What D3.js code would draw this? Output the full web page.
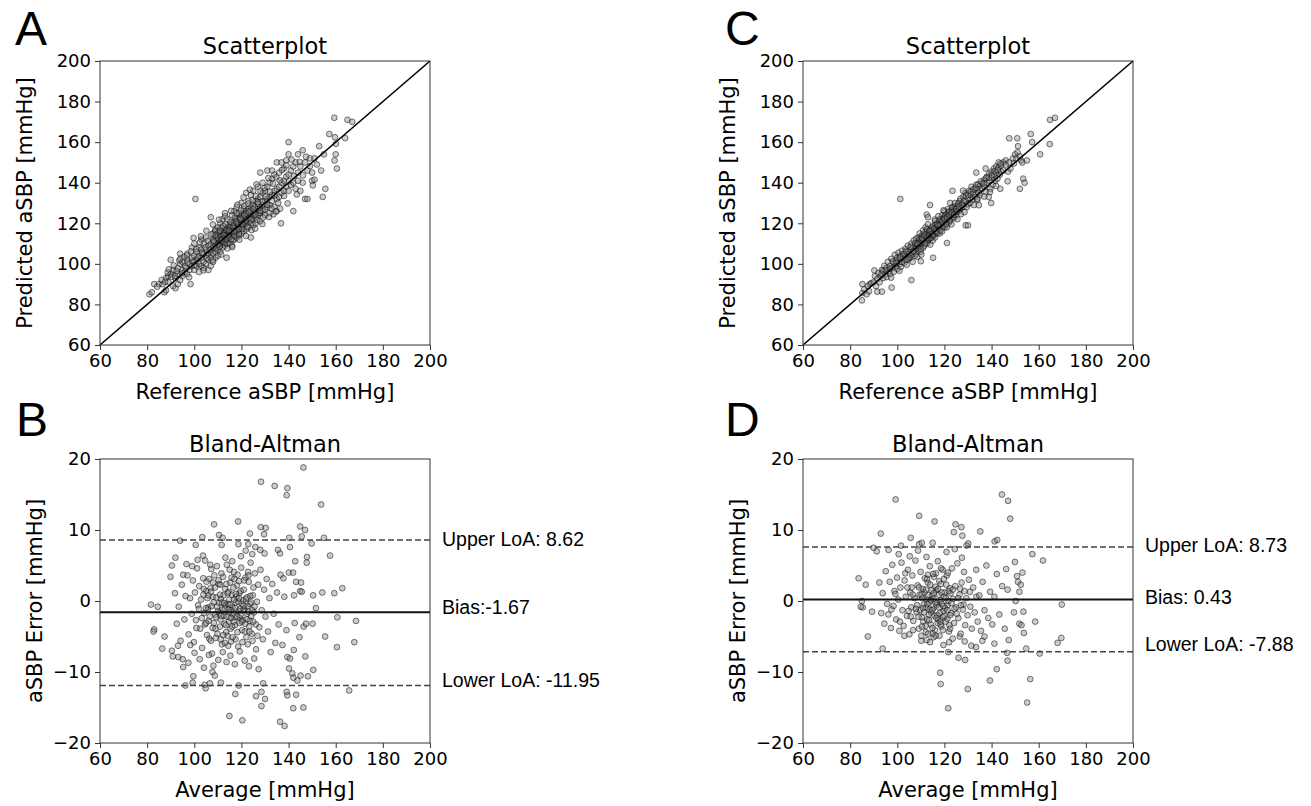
<!DOCTYPE html>
<html>
<head>
<meta charset="utf-8">
<script src="https://cdn.jsdelivr.net/npm/d3@7"></script>
<style>
  body { margin: 0; background: #fff; }
  .tick text { font-family: "DejaVu Sans", sans-serif; font-size: 18px; fill: #000; }
  .tick line { stroke: #333; }
  .axis-label { font-family: "DejaVu Sans", sans-serif; font-size: 21px; fill: #000; }
  .panel-title { font-family: "DejaVu Sans", sans-serif; font-size: 22.5px; fill: #000; }
  .panel-letter { font-family: "Liberation Sans", Arial, sans-serif; font-size: 48px; fill: #000; }
  .loa-label { font-family: "Liberation Sans", Arial, sans-serif; font-size: 19.5px; fill: #000; }
</style>
</head>
<body>
<svg id="fig" width="1311" height="806"></svg>
<script>
// ---- data ----
const xTicks = [60, 80, 100, 120, 140, 160, 180, 200];
const scatterTicks = [60, 80, 100, 120, 140, 160, 180, 200];
const errorTicks = [-20, -10, 0, 10, 20];

// panel A: [reference, predicted]
const scatterA = [
  [81,85],[82,86],[83,90],[85,90],[86.6,90],[87.3,86],[88,87],[88,93],[89,94],[89,91],[90,95],[90,102],[91,97],[91,89],
  [92,88],[92,93],[93,95],[93,90],[93,98],[94,100],[94,105],[94,92],[95,97],[95,94],[95,101],[96,99],[96,96],[97,102],
  [97,95],[97,105],[98.4,90],[98,100],[98,97],[99,103],[99,99],[99,108],[100,101],[100,97],[100,104],[100,110],[100.5,132],
  [101,99],[101,102],[101,106],[102,100],[102,104],[102,108],[102,96],[103,103],[103,99],[103,107],[103,112],[104,101],
  [104,105],[104,98],[104,110],[105,104],[105,107],[105,100],[105,113],[106,105],[106,102],[106,109],[106,97],[107,106],
  [107,110],[107,103],[107,123],[107,99],[108,108],[108,112],[108,105],[108,115],[108,101],[109,109],[109,113],[109,106],
  [109,117],[109,103],[110,110],[110,114],[110,107],[110,112],[110,118],[110,104],[111,111],[111,115],[111,109],[111,113],
  [111,120],[111,106],[112,112],[112,116],[112,110],[112,114],[112,108],[112,122],[113,113],[113,117],[113,111],[113,115],
  [113,109],[113,125],[113.7,103],[114,114],[114,118],[114,112],[114,116],[114,110],[114,122],[115,115],[115,119],[115,113],
  [115,117],[115,110],[116,116],[116,120],[116,114],[116,124],[116,109],[117,117],[117,121],[117,115],[117,126],[117,112],
  [118,118],[118,122],[118,116],[118,120],[118,113],[118,128],[119,119],[119,123],[119,117],[119,125],[119,114],[120,120],
  [120,124],[120,118],[120,122],[120,115],[120,130],[121,121],[121,125],[121,119],[121,127],[121,116],[122,122],[122,126],
  [122,120],[122,135],[122,117],[123,123],[123,127],[123,121],[123,131],[123,118],[124,113],[124,124],[124,128],[124,120],
  [124,134],[125,125],[125,129],[125,122],[125,119],[125,136],[126,126],[126,131],[126,123],[126,120],[127,127],[127,132],
  [127,124],[127,138],[128,128],[128,133],[128,125],[128,145],[128,121],[129,129],[129,135],[129,126],[129,140],[130,131],
  [130,136],[130,127],[130,124],[131,132],[131,138],[131,128],[131,146],[132,133],[132,140],[132,129],[132,125],[133,134],
  [133,142],[133,131],[133,146],[134,136],[134,128],[134,144],[135,137],[135,150],[135,132],[135,126],[136,138],[136,145],
  [136,133],[136.8,120],[137,140],[137,150],[137,135],[138,141],[138,147],[138,136],[139,143],[139,151],[139,138],[140,160],
  [140,144],[140,136],[140,154],[141,146],[141,139],[142,126],[142,148],[142,140],[143,150],[143,137],[144,154],[144,145],
  [144,141],[145,148],[145,136],[146,156],[146,140],[147,132],[147,150],[148,132],[148,146],[149,152],[150,145],[150,141],
  [151,141.5],[151,152],[152,149],[153,158],[153.8,146],[154.5,133],[155.6,137],[155,154],[157.3,164],[159.4,172],[159.7,162.4],
  [160.1,159.2],[160,154],[159.5,151],[160.5,147],[164,162],[165,171],[167,170],
  [84.3,88.7],[86.2,92.1],[87.6,91.2],[88.7,95.8],[90.4,93.6],[91.3,99.2],[92.5,96.4],[93.6,101.7],[94.8,95.3],[95.6,103.4],
  [96.4,98.1],[97.2,100.6],[97.8,93.4],[98.6,106.2],[99.3,101.2],[100.2,99.4],[100.8,107.3],[101.7,103.1],[102.4,110.6],[103.3,105.4],
  [103.9,96.8],[104.7,108.2],[105.3,102.7],[105.8,111.4],[106.6,106.9],[107.3,114.6],[107.8,101.8],[108.4,110.7],[108.9,116.2],[109.4,107.8],
  [109.8,112.9],[110.3,115.6],[110.7,108.4],[111.2,113.7],[111.6,117.9],[112.1,110.9],[112.5,115.2],[112.9,112.4],[113.3,119.4],[113.7,114.3],
  [114.1,107.6],[114.5,116.8],[114.9,113.1],[115.4,120.7],[115.8,115.9],[116.3,111.6],[116.7,119.2],[117.2,122.8],[117.6,116.4],[118.1,124.9],
  [118.5,119.6],[118.9,114.8],[119.4,121.8],[119.8,126.3],[120.3,117.2],[120.7,123.1],[121.2,128.6],[121.6,120.4],[122.1,124.8],[122.5,118.3],
  [122.9,129.7],[123.4,122.6],[123.8,126.2],[124.3,116.7],[124.7,131.3],[125.2,123.8],[125.6,127.9],[126.1,133.4],[126.6,121.7],[127.1,129.6],
  [127.6,125.1],[128.1,135.8],[128.7,130.7],[129.2,122.8],[129.8,137.4],[130.3,133.2],[130.9,129.1],[131.4,142.3],[132.1,135.6],[132.7,127.3],
  [133.4,139.6],[134.1,133.8],[134.8,142.7],[135.6,130.1],[136.3,141.2],[137.2,146.3],[138.1,133.5],[139.1,148.6],[140.2,140.8],[141.3,151.4],
  [142.4,143.3],[143.5,134.2],[144.7,150.3],[146.1,143.6],[147.4,152.8],[149.1,148.2],[150.3,138.7],[139.6,129.8],[136.4,127.2],[133.6,124.4],
  [89.2,97.3],[91.8,94.1],[94.1,102.6],[96.9,104.1],[99.7,112.8],[102.8,113.6],[105.1,116.3],[107.9,119.4],[110.5,121.8],[113.1,123.4],
  [115.6,126.1],[118.3,129.2],[120.9,132.7],[123.6,136.6],[126.4,139.2],[111.4,104.6],[116.1,108.3],[119.1,111.9],[121.9,113.8],[125.8,117.4],
  [128.9,119.6],[131.7,123.1],[134.6,125.8],
  [108.2,111.3],[109.1,114.2],[110.1,109.6],[110.9,116.4],[111.8,112.2],[112.3,118.6],[113.0,110.4],[113.6,116.7],[114.4,113.6],[115.1,118.1],
  [115.7,112.2],[116.5,117.8],[117.0,113.9],[117.9,120.8],[118.7,117.1],[119.6,122.3],[120.4,119.6],[121.3,124.0],[122.2,121.7],[123.1,125.6],
  [124.0,122.0],[125.0,127.1],[126.0,124.3],[127.0,130.4],[128.0,126.2],[112.6,114.0],[113.5,112.0],[111.5,111.6],[114.8,116.3],[116.9,115.9]
];

// panel B: [average, error]
const blandB = [
  [146.3,18.8],[128.3,16.8],[134.1,16.2],[139.5,15.9],[139.2,14.9],[153.8,13.6],[108.4,10.8],[118.6,11.2],[128.2,10.4],
  [130.3,10.3],[129.6,9.4],[144.9,10.5],[147,10],[145.6,9.1],[103.4,9],[110.5,9.3],[112,8.9],[94,8.5],[140.3,8.9],[155,8.9],
  [149.8,8.1],[100.6,7.9],[111.6,7.9],[118.7,8],[123.6,9.5],[122.9,8],[125.9,7.6],[128,7.2],[129.8,6.7],[135.5,7.2],
  [136.4,6.7],[140.6,7.6],[157.6,6.4],[147.8,6.2],[147.7,5.4],[92,6.1],[90.5,5],[89.9,3.4],[162.8,1.8],[159.4,1.1],
  [154.3,1.2],[150.4,0.8],[151.6,-1],[160.7,-2.3],[168.6,-2.8],[167.9,-5.8],[160.5,-6.5],[155.5,-5],[81.6,-0.5],[84.5,-0.8],
  [83,-4],[82.7,-4.3],[86.4,-6.7],[87.4,-5],[90.5,-7],[90.9,-7.8],[93.2,-7.9],[95.1,-8.2],[95.3,-9.3],[97.5,-8.7],
  [96.2,-11.9],[99.3,-11.5],[99.6,-10.6],[104.4,-11.8],[104.8,-12.3],[106.6,-11.6],[107.7,-10],[108.7,-10.5],[111.3,-11.5],
  [117.4,-13.1],[114.9,-16.2],[120.4,-16.8],[118.9,-11.9],[126.2,-13.4],[128.5,-12.8],[128.5,-14.8],[130,-13.8],[129.2,-11.6],
  [136.4,-17],[138.3,-17.6],[139.2,-12.8],[139.5,-13.3],[143.2,-13.2],[142,-15.1],[146.3,-15],[165.7,-12.6],[143.7,-11.2],
  [145.1,-10.5],[148.2,-10.6],[150.5,-9.7],[141.6,-10.2],[142,-10.8],[140.2,-9.5],[139.5,-7.9],[140.6,-8.1],[142.2,-6.9],
  [147.1,-7.8],[142.6,-3.1],[144.6,-5.1],[146.4,-3.6],[147.4,-3.2],[150.2,-3.2],[142.3,0.8],[144.9,1.4],[145.6,1.3],
  [143.2,2.7],[145.3,2.6],[142.8,5.6],[140.1,4],[141.9,4],[137.8,3.2],
  [93.4,-0.8],[94.7,2.3],[95.8,-2.6],[96.3,0.7],[97.1,3.6],[97.6,-4.7],[98.2,0.4],[98.9,-1.8],[99.4,2.9],[99.8,-5.8],
  [100.3,1.2],[100.7,-2.7],[101.2,4.6],[101.6,-0.6],[102.1,2.1],[102.5,-3.9],[102.9,0.2],[103.3,-6.6],[103.8,3.2],[104.2,-1.7],
  [104.6,5.7],[105.1,1.4],[105.4,-4.8],[105.9,-0.9],[106.3,3.1],[106.6,-2.2],[107.2,4.5],[107.5,-7.4],[107.9,0.6],[108.3,-3.1],
  [108.8,1.9],[109.1,-5.2],[109.6,4.9],[110.1,-1.4],[110.4,2.4],[110.9,-3.6],[111.3,0.3],[111.7,-6.1],[112.2,3.4],[112.6,-2.1],
  [113.1,1.7],[113.5,-4.4],[113.8,5.1],[114.3,-0.4],[114.7,-2.9],[115.2,2.6],[115.6,-5.7],[115.9,0.9],[116.4,-1.9],[116.8,4.1],
  [117.3,-3.4],[117.7,-0.2],[118.1,2.2],[118.6,-6.4],[119.1,1.1],[119.4,-2.4],[119.9,4.7],[120.3,-4.1],[120.8,0.1],[121.2,-1.1],
  [121.7,3.3],[122.1,-5.1],[122.6,-0.7],[123.1,2.7],[123.5,-2.8],[123.9,5.4],[124.4,-4.6],[124.8,0.8],[125.3,-1.6],[125.7,3.9],
  [126.2,-6.8],[126.6,-0.1],[127.1,2.3],[127.6,-3.7],[128.1,4.4],[128.6,-1.3],[129.1,-5.4],[129.6,1.6],[130.2,-2.2],[130.7,3.1],
  [131.3,-4.3],[131.9,0.4],[132.4,-7.2],[133.1,2.4],[133.7,-1.8],[134.4,-5.9],[135.1,1.2],[135.8,-3.3],[136.6,3.7],[137.4,-6.2],
  [138.2,0.6],[139.1,-4.1],
  [103.2,-2.4],[103.9,0.9],[104.5,-3.3],[105.2,2.7],[105.8,-1.2],[106.4,-5.3],[106.9,1.8],[107.4,-0.7],[107.8,-3.8],[108.5,3.6],
  [108.9,-1.9],[109.4,0.5],[109.8,-4.6],[110.3,2.9],[110.6,-0.3],[111.1,-2.6],[111.5,3.9],[111.9,-1.2],[112.4,0.8],[112.8,-3.2],
  [113.3,-0.6],[113.6,2.4],[114.1,-4.9],[114.5,1.3],[114.9,-1.6],[115.4,-3.9],[115.8,3.3],[116.2,-0.9],[116.6,1.9],[117.1,-2.3],
  [117.5,-5.4],[117.9,0.6],[118.4,3.7],[118.8,-1.4],[119.2,-3.1],[119.7,1.4],[120.1,-0.4],[120.6,-2.7],[121.1,2.9],[121.5,-4.3],
  [121.9,0.3],[122.4,-1.8],[122.8,4.1],[123.3,-3.6],[123.7,0.7],[124.2,-2.1],[124.7,-5.6],[125.1,1.9],[125.6,-0.8],[126.1,-3.3],
  [110.7,-1.7],[111.8,-0.2],[112.9,-1.1],[113.9,-2.2],[114.8,0.2],[115.7,-1.3],[116.7,-2.9],[117.6,1.0],[118.7,-0.1],[119.6,-2.0],
  [120.7,-1.3],[109.3,-2.3],[108.2,-0.2],[107.1,1.3],[106.1,-2.8],[105.6,0.4],[104.9,-1.0],[122.2,-2.6],[123.6,-0.4],[124.6,-1.3],
  [112.1,-7.2],[113.7,-8.6],[115.3,-7.7],[117.2,-8.9],[119.3,-7.1],[121.4,-8.4],[123.2,-9.2],[125.4,-8.1],[127.3,-9.6],[110.2,-8.3],
  [108.1,-9.1],[106.2,-7.6],[104.1,-9.4],[102.3,-8.2],[100.1,-7.3],[98.3,-6.2],[113.2,6.1],[116.1,5.6],[119.8,6.3],[121.8,7.1],
  [124.6,6.6],[106.8,5.1],[103.7,6.4],[101.4,5.8],[99.1,4.9],[96.7,5.2],[95.3,3.7],[94.2,-5.6],[92.6,-3.2],[91.8,1.1],[93.1,-6.3],
  [109.6,-0.8],[110.9,0.9],[111.4,-2.1],[112.7,-0.3],[113.4,-3.4],[114.2,1.1],[114.6,-1.2],[115.1,-0.5],[115.5,-2.4],[116.1,-3.6],
  [116.9,0.2],[117.4,-1.0],[118.2,-2.2],[118.9,0.4],[119.5,-1.1],[120.2,-2.9],[120.9,-0.7],[121.6,-3.2],[122.3,0.5],[122.9,-1.5],
  [123.4,-4.3],[124.1,-0.2],[112.3,-4.8],[114.4,-6.3],[116.3,-5.1],[118.3,-4.4],[120.4,-5.8],[122.7,-6.1],[111.2,-5.4],[113.0,-5.9],
  [115.0,4.4],[117.0,3.1],[119.0,2.8],[111.0,2.3],[109.0,-3.9],[107.0,-5.6],[121.0,1.6],[123.0,3.6],[125.0,-2.9],[126.8,-4.9],
  [105.0,-3.1],[106.0,0.8],[108.0,2.6],[104.0,1.7],[102.0,-1.1],[100.9,-3.8]
];

// panel C: [reference, predicted]
const scatterC = [
  [101.3,132],[113.9,129],[112.5,124.3],[113,123],[106,92],[97.6,88.3],[91.5,86.3],[93.5,86.3],[85.2,90],[88.3,90],
  [85.2,85.6],[85,82],[87,85],[90.3,96.8],[115.2,103],[110,101.3],[121.1,110.3],[123.4,136],[122.4,130],[133.5,145],
  [137.5,147],[147.5,161.9],[150.9,161.9],[151.2,158],[156.6,164],[157.2,160],[164.7,159],[160.6,154],[164.8,171],
  [166.9,172],[155,151],[153.4,142],[154,140],[152,137],[146.8,140.7],[139.8,130],[138.8,133],[143.7,137],[129,119],[130,119],
  [86,87.5],[87.5,89],[88,86.5],[89,90.5],[90,91],[90.5,94],[91,89],[91.5,92.5],[92,95.5],[92.5,91],[93,94],[93.5,97],
  [94,93],[94,96.5],[94.5,99],[95,95],[95.5,98],[95.5,93.5],[96,101],[96.5,96.5],[97,99],[97,95],[97.5,102.5],[98,98],
  [98.5,100.5],[98.5,96],[99,104.5],[99.5,99],[99.5,101.5],[100,97.5],[100,103],[100.5,105.5],[101,100],[101,102.5],
  [101.5,104],[101.5,98.5],[102,106.5],[102,101],[102.5,103.5],[103,100.5],[103,105],[103.5,107.5],[103.5,102],[104,104],
  [104,99.5],[104.5,106],[104.5,109],[105,102.5],[105,105],[105.5,107],[105.5,103],[106,110],[106,104.5],[106.5,108],
  [106.5,101],[107,106],[107,111.5],[107.5,104],[107.5,109],[108,107.5],[108,112.5],[108,105],[108.5,110],[108.5,103.5],
  [109,108],[109,113],[109,106.5],[109.5,111],[109.5,115],[110,109],[110,112],[110,106],[110.5,114],[110.5,110.5],[111,108],
  [111,113],[111,116.5],[111.5,111],[111.5,109],[112,114.5],[112,112],[112,118],[112.5,110],[112.5,116],[113,113.5],
  [113,111],[113,119.5],[113.5,115],[113.5,112.5],[114,117],[114,114],[114,109.5],[114.5,116],[114.5,113],[115,118.5],
  [115,115],[115,111.5],[115.5,114],[116,117],[116,113],[116,121],[116.5,118],[117,115],[117,120],[117.5,117],[118,122],
  [118,118.5],[118,115],[118.5,120],[119,124],[119,119],[119,116],[119.5,121.5],[120,118],[120,123],[120,126],[120.5,120],
  [121,124.5],[121,121.5],[121,118],[121.5,127],[122,123],[122,120.5],[122,125.5],[122.5,122],[123,126.5],[123,124],
  [123,119.5],[123.5,128],[124,125],[124,122.5],[124,127],[124.5,130],[125,124],[125,127.5],[125.5,122],[126,129],[126,126],
  [126.5,131],[127,127.5],[127,124.5],[127.5,130],[128,133],[128,128],[128.5,125.5],[129,131],[129,135],[129.5,128],
  [130,132.5],[130,129.5],[130.5,136],[131,134],[131,130],[131.5,138],[132,135],[132,132],[132.5,129],[133,136.5],[133,133],
  [133.5,139],[134,137],[134,131.5],[134.5,135],[135,138.5],[135,134],[136,140],[136,137],[137,141.5],[137,138],[137.5,135.5],
  [138,143],[138,140],[139,144.5],[139,141],[139.5,137],[140,145.5],[140,142.5],[140.5,139],[141,147],[141,144],[141.5,141],
  [142,148],[142,145],[142.5,142],[143,147.5],[143,150],[143.5,144],[144,148.5],[144,145.5],[145,150],[145,146],[146,151],
  [146,149],[147,145.5],[147.5,150],[148,147],[149,152],[149.5,149.5],[150,154],[150.5,152],[151,155],[152,153],[152.5,151],
  [153,150],
  [93.3,95.1],[95.2,96.8],[96.9,97.6],[98.1,101.2],[99.7,100.4],[101.2,103.3],[102.6,104.8],[103.7,106.1],[104.8,103.2],[105.7,108.4],
  [106.8,106.3],[107.7,110.2],[108.7,108.9],[109.2,111.9],[109.9,107.4],[110.3,113.1],[110.8,111.7],[111.3,114.9],[111.8,110.2],[112.3,113.3],
  [112.7,117.1],[113.2,112.1],[113.6,116.2],[114.2,112.8],[114.7,117.9],[115.2,114.1],[115.7,116.8],[116.2,119.3],[116.7,115.4],[117.3,118.7],
  [117.8,121.2],[118.3,116.6],[118.8,121.8],[119.3,118.2],[119.8,122.6],[120.3,124.1],[120.8,119.4],[121.3,123.3],[121.8,125.7],[122.3,121.3],
  [122.8,124.6],[123.3,127.7],[123.8,123.2],[124.3,126.1],[124.8,128.4],[125.3,125.6],[125.8,129.8],[126.3,127.2],[126.8,132.1],[127.4,129.1],
  [128.3,131.2],[129.2,133.4],[130.1,134.1],[131.2,135.6],[132.3,136.8],[133.3,137.6],[134.3,139.2],[135.4,140.7],[136.6,139.6],[137.7,142.3],
  [138.9,142.6],[140.1,143.8],[141.3,145.7],[142.6,146.3],[143.8,149.4],[117.4,123.5],[115.9,121.8],[119.6,126.4],[127.9,136.1],[133.9,132.1],
  [134.6,128.9],[136.9,133.2],[139.3,135.4],[141.9,138.4],[110.2,104.6],[104.2,102.1],[100.9,96.6],[97.4,93.2],
  [110.6,112.4],[111.6,113.8],[112.6,112.6],[113.4,114.4],[114.1,116.3],[114.9,114.7],[115.6,117.4],[116.4,116.1],[117.1,119.4],[118.1,119.1],
  [119.1,120.7],[120.1,122.1],[121.1,122.9],[122.1,124.1],[123.1,125.4],[124.1,124.3],[125.1,127.1],[126.1,128.2],[109.6,110.1],[108.6,109.8]
];

// panel D: [average, error]
const blandD = [
  [99.3,14.3],[109.3,12],[115.8,11.2],[124.7,10.8],[127.2,10.4],[124,9.7],[127.6,9.2],[135.2,9.8],[144.4,15],[147,14.1],
  [147.9,11.6],[93,9.5],[105.7,8.9],[115,8.2],[109.3,8],[110.4,8.2],[130.1,8.1],[129.4,7.8],[141.3,8.4],[142.4,8.6],
  [89.9,7.5],[91.3,7],[101.6,7.8],[157.3,6.6],[161.8,5.7],[149.9,5.5],[146.2,4.5],[153.1,4],[150.8,3.5],[151.2,2.7],
  [152.4,2.3],[151.8,1.3],[150.2,0],[169.8,-0.5],[83.6,3.2],[86.6,2.3],[85,0],[85.3,-0.9],[84.5,-0.8],[89.3,-1.5],[87.5,-5],
  [93.8,-6.7],[149.5,-1.6],[153.5,-1.5],[151.8,-3.2],[152.7,-3.4],[158.5,-2.9],[153.7,-4.5],[154.7,-6.7],[160.4,-7.4],
  [168,-5.9],[169.6,-5.2],[146.6,-7.3],[146.8,-8.4],[147.3,-5.5],[141.2,-6],[142.2,-9.6],[139.3,-11.2],[156.4,-11],
  [155.1,-14.3],[118.2,-10.1],[118.4,-11.7],[121.6,-15.1],[129.9,-12.4],[126,-8],[128.8,-8.3],[121.6,-7.2],[119.6,-6.2],
  [122,-5.8],[126.5,-5],[110.2,-5.6],[112.5,-5.5],[115.4,-5.1],[133.4,-6.5],[136.1,-5.6],[137,-5],[133.6,0.6],
  [92.4,2.6],[93.2,-1.7],[93.8,1.1],[94.5,-3.2],[95.1,4.2],[95.7,-0.4],[96.2,-1.9],[96.8,2.7],[97.3,-3.8],[97.9,5.1],
  [98.4,-0.7],[98.8,1.4],[99.5,-2.6],[99.9,3.3],[100.4,0.2],[100.9,-4.2],[101.3,1.9],[101.8,5.4],[102.2,-1.3],[102.7,-3.5],
  [103.1,2.9],[103.6,0.6],[104.1,-2.1],[104.5,4.4],[105.1,-4.7],[105.5,1.2],[105.9,-0.9],[106.4,3.6],[106.8,-2.8],[107.3,0.4],
  [107.7,5.7],[108.2,-1.6],[108.6,2.2],[109.1,-3.9],[109.5,0.9],[109.9,4.1],[110.4,-2.3],[110.8,1.7],[111.2,-0.5],[111.7,3.2],
  [112.1,-4.4],[112.5,0.2],[112.9,2.6],[113.4,-1.9],[113.8,4.9],[114.2,-3.3],[114.7,0.7],[115.1,-1.1],[115.6,3.4],[116.0,-4.1],
  [116.5,1.5],[116.9,-0.3],[117.4,-2.6],[117.8,2.8],[118.3,0.1],[118.7,-3.6],[119.2,4.4],[119.6,-1.4],[120.1,1.2],[120.5,-2.9],
  [121.0,3.6],[121.4,-0.6],[121.9,-4.3],[122.3,1.8],[122.8,-1.7],[123.2,4.6],[123.7,0.3],[124.1,-3.1],[124.6,2.1],[125.0,-0.9],
  [125.5,5.3],[125.9,-2.4],[126.4,0.9],[126.9,-4.6],[127.3,2.6],[127.8,-1.2],[128.3,4.1],[128.8,-3.4],[129.3,0.4],[129.8,-2.0],
  [130.4,3.0],[131.0,-0.8],[131.6,-3.9],[132.2,1.9],[132.8,-1.6],[133.5,4.4],[134.1,-2.9],[134.8,0.8],[135.5,-4.2],[136.2,2.7],
  [137.0,-1.3],[137.8,5.0],[138.6,-2.4],[139.4,1.3],[140.3,-3.3],[141.2,0.6],[142.2,3.8],[143.3,-1.9],[144.5,2.1],[145.6,-3.9],
  [146.8,1.6],
  [108.4,-0.6],[109.2,1.9],[109.7,-1.3],[110.6,0.4],[111.0,-2.9],[111.5,1.2],[112.3,-0.9],[112.7,-2.6],[113.2,0.8],[113.6,-0.2],
  [114.0,2.3],[114.4,-1.6],[114.9,-3.8],[115.3,0.3],[115.8,-2.1],[116.2,2.0],[116.7,-0.6],[117.1,-3.1],[117.6,0.9],[118.0,-1.7],
  [118.5,2.4],[118.9,-0.4],[119.4,-2.3],[119.9,0.6],[120.3,-1.0],[120.8,2.3],[121.2,-2.5],[121.7,0.0],[122.1,-3.4],[122.6,1.1],
  [112.0,-3.5],[113.0,3.7],[115.0,-4.6],[116.4,3.9],[117.0,-2.0],[118.2,-2.9],[119.8,3.1],[114.6,1.5],[113.7,-1.2],[110.9,-1.0],
  [106.1,1.9],[104.8,-1.4],[103.4,3.9],[101.1,-2.9],[99.2,1.0],[97.5,-1.2],[125.3,-1.8],[126.7,1.7],[128.1,-0.5],[130.8,1.3],
  [105.3,6.3],[108.8,7.1],[112.4,6.2],[117.2,5.6],[120.9,6.9],[124.4,7.3],[127.4,6.1],[100.6,6.6],[96.3,7.2],[110.2,-4.9],
  [113.9,-5.8],[117.9,-4.9],[123.5,-5.3],[128.6,-5.7],[131.4,-6.3],[106.7,-4.1],[103.0,-4.9],
  [109.0,-2.2],[110.3,0.9],[111.3,-1.6],[112.2,1.6],[112.8,-0.4],[113.5,-2.7],[114.3,0.1],[114.8,-1.3],[115.5,1.1],[116.1,-0.2],
  [116.6,-2.4],[117.3,1.7],[117.7,-0.9],[118.4,-3.3],[118.8,1.2],[119.5,-0.7],[120.0,-2.1],[120.6,0.4],[121.3,-1.3],[121.8,1.4],
  [122.5,-2.0],[123.0,-0.3],[123.6,1.6],[124.3,-1.1],[112.6,3.1],[115.2,3.8],[118.6,4.6],[121.5,4.0],[110.5,-3.6],[113.1,-4.6],
  [116.3,-4.9],[119.3,-4.1],[122.4,-3.9],[107.9,-1.1],[106.6,0.9],[105.7,-2.2],[104.3,1.9],[125.8,0.4],[127.0,-0.6],[128.5,1.4]
];

// limit lines as drawn (upper, bias, lower) and their printed labels
const linesB = [8.6, -1.6, -11.9];
const labelsB = ['Upper LoA: 8.62', 'Bias:-1.67', 'Lower LoA: -11.95'];
const linesD = [7.6, 0.2, -7.15];
const labelsD = ['Upper LoA: 8.73', 'Bias: 0.43', 'Lower LoA: -7.88'];

// ---- layout ----
const W = 330, H = 284;
const svg = d3.select('#fig');

function addAxes(g, x, y, yTicksList) {
  g.append('g')
    .attr('transform', `translate(0,${H})`)
    .call(d3.axisBottom(x).tickValues(xTicks).tickSize(5).tickSizeOuter(0).tickPadding(4))
    .call(a => a.select('.domain').remove());

  g.append('g')
    .call(d3.axisLeft(y).tickValues(yTicksList).tickSize(5).tickSizeOuter(0).tickPadding(4))
    .call(a => a.select('.domain').remove());

  g.append('rect')
    .attr('width', W)
    .attr('height', H)
    .attr('fill', 'none')
    .attr('stroke', '#333')
    .attr('stroke-width', 1);
}

function addDots(g, data, x, y) {
  g.append('g').selectAll('circle').data(data)
    .enter().append('circle')
    .attr('cx', d => x(d[0]))
    .attr('cy', d => y(d[1]))
    .attr('r', 2.9)
    .attr('fill', '#808080')
    .attr('fill-opacity', 0.4)
    .attr('stroke', '#000')
    .attr('stroke-opacity', 0.5)
    .attr('stroke-width', 1);
}

function addTexts(g, {title, xLabel, yLabel, letter, letterX, letterY, yLabelX}) {
  g.append('text').attr('class', 'panel-title')
    .attr('x', W / 2).attr('y', -7)
    .attr('text-anchor', 'middle')
    .text(title);
  g.append('text').attr('class', 'axis-label')
    .attr('x', W / 2).attr('y', H + 54)
    .attr('text-anchor', 'middle')
    .text(xLabel);
  g.append('text').attr('class', 'axis-label')
    .attr('transform', `translate(${yLabelX},${H / 2}) rotate(-90)`)
    .attr('text-anchor', 'middle')
    .text(yLabel);
  g.append('text').attr('class', 'panel-letter')
    .attr('x', letterX).attr('y', letterY)
    .text(letter);
}

function scatterPanel(left, top, data, letter, letterX) {
  const g = svg.append('g').attr('transform', `translate(${left},${top})`);
  const x = d3.scaleLinear().domain([60, 200]).range([0, W]);
  const y = d3.scaleLinear().domain([60, 200]).range([H, 0]);

  addDots(g, data, x, y);

  // identity line
  g.append('line')
    .attr('x1', x(60)).attr('y1', y(60))
    .attr('x2', x(200)).attr('y2', y(200))
    .attr('stroke', '#000')
    .attr('stroke-width', 1.6);

  addAxes(g, x, y, scatterTicks);
  addTexts(g, {
    title: 'Scatterplot', xLabel: 'Reference aSBP [mmHg]', yLabel: 'Predicted aSBP [mmHg]',
    letter, letterX, letterY: -16, yLabelX: -68
  });
}

function blandPanel(left, top, data, lines, labels, labelDy, letter, letterX) {
  const g = svg.append('g').attr('transform', `translate(${left},${top})`);
  const x = d3.scaleLinear().domain([60, 200]).range([0, W]);
  const y = d3.scaleLinear().domain([-20, 20]).range([H, 0]);

  addDots(g, data, x, y);

  g.selectAll('.limit').data(lines)
    .enter().append('line')
    .attr('class', 'limit')
    .attr('x1', 0).attr('x2', W)
    .attr('y1', d => y(d)).attr('y2', d => y(d))
    .attr('stroke', (d, i) => i === 1 ? '#111' : '#444')
    .attr('stroke-width', (d, i) => i === 1 ? 2 : 1.6)
    .attr('stroke-dasharray', (d, i) => i === 1 ? null : '6,3');

  g.selectAll('.loa-label').data(labels)
    .enter().append('text')
    .attr('class', 'loa-label')
    .attr('x', W + 12)
    .attr('y', (d, i) => y(lines[i]) + labelDy[i])
    .text(d => d);

  addAxes(g, x, y, errorTicks);
  addTexts(g, {
    title: 'Bland-Altman', xLabel: 'Average [mmHg]', yLabel: 'aSBP Error [mmHg]',
    letter, letterX, letterY: -23, yLabelX: -58
  });
}

scatterPanel(100, 61, scatterA, 'A', -85);
blandPanel(100, 459, blandB, linesB, labelsB, [6, 1.5, 2], 'B', -84);
scatterPanel(803, 61, scatterC, 'C', -78);
blandPanel(803, 459, blandD, linesD, labelsD, [5, 4, -1], 'D', -78);
</script>
</body>
</html>
